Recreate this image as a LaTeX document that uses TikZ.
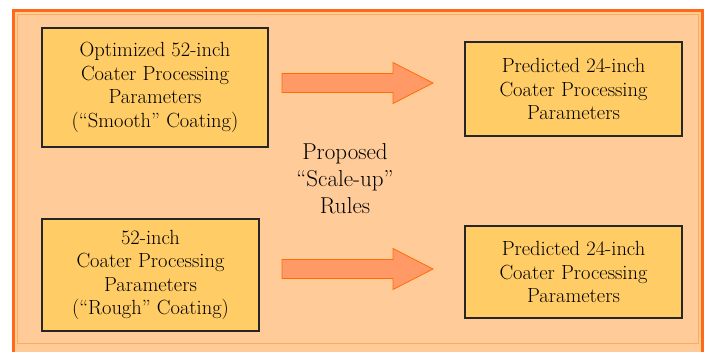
\documentclass[tikz,border=0pt]{standalone}
\usetikzlibrary{calc}
\definecolor{peach}{HTML}{FFCC99}
\definecolor{gold}{HTML}{FFCC66}
\definecolor{salmon}{HTML}{FF9966}
\definecolor{frameorange}{HTML}{FF6A1A}
\tikzset{param/.style={draw=black!85,line width=1.6pt,fill=gold,align=center,
                       font=\fontsize{20.5}{23.5}\selectfont,inner sep=0pt}}
\tikzset{bigarrow/.style={draw=orange!85!red,fill=salmon,line width=0.8pt}}
\newcommand{\fatarrow}[2]{\draw[bigarrow] ($(#1)+(0,-9.5)$) -- ($(#2)+(-40,-9.5)$)
                          -- ($(#2)+(-40,-20.5)$) -- (#2) -- ($(#2)+(-40,20.5)$)
                          -- ($(#2)+(-40,9.5)$) -- ($(#1)+(0,9.5)$) -- cycle;}

\begin{document}
\begin{tikzpicture}[x=1pt,y=-1pt]
    \useasboundingbox (0,0) rectangle (706,351);
    \begin{scope}
      \clip (0,0) rectangle (706,351);
      \fill[white] (0,0) rectangle (706,351);
      \filldraw[fill=peach,draw=frameorange,line width=3pt] (13,10) rectangle (702,360);
      \draw[orange!40!peach,line width=0.8pt] (17,14) rectangle (698,343);
    \end{scope}
    % parameter boxes
    \node[param,minimum width=226,minimum height=119] (smooth52) at (155,87.5)
         {Optimized 52-inch\\Coater Processing\\Parameters\\(``Smooth'' Coating)};
    \node[param,minimum width=217,minimum height=94] (smooth24) at (573.5,89)
         {Predicted 24-inch\\Coater Processing\\Parameters};
    \node[param,minimum width=217,minimum height=112] (rough52) at (150.5,275)
         {52-inch\\Coater Processing\\Parameters\\(``Rough'' Coating)};
    \node[param,minimum width=217,minimum height=92] (rough24) at (573.5,272)
         {Predicted 24-inch\\Coater Processing\\Parameters};
    \node[align=center,font=\fontsize{23}{27}\selectfont] (rules) at (345,179)
         {Proposed\\``Scale-up''\\Rules};
    % arrows
    \coordinate (a1s) at (282,83);
    \coordinate (a1e) at (433,83);
    \coordinate (a2s) at (282,269);
    \coordinate (a2e) at (433,269);
    \fatarrow{a1s}{a1e}
    \fatarrow{a2s}{a2e}
\end{tikzpicture}
\end{document}
